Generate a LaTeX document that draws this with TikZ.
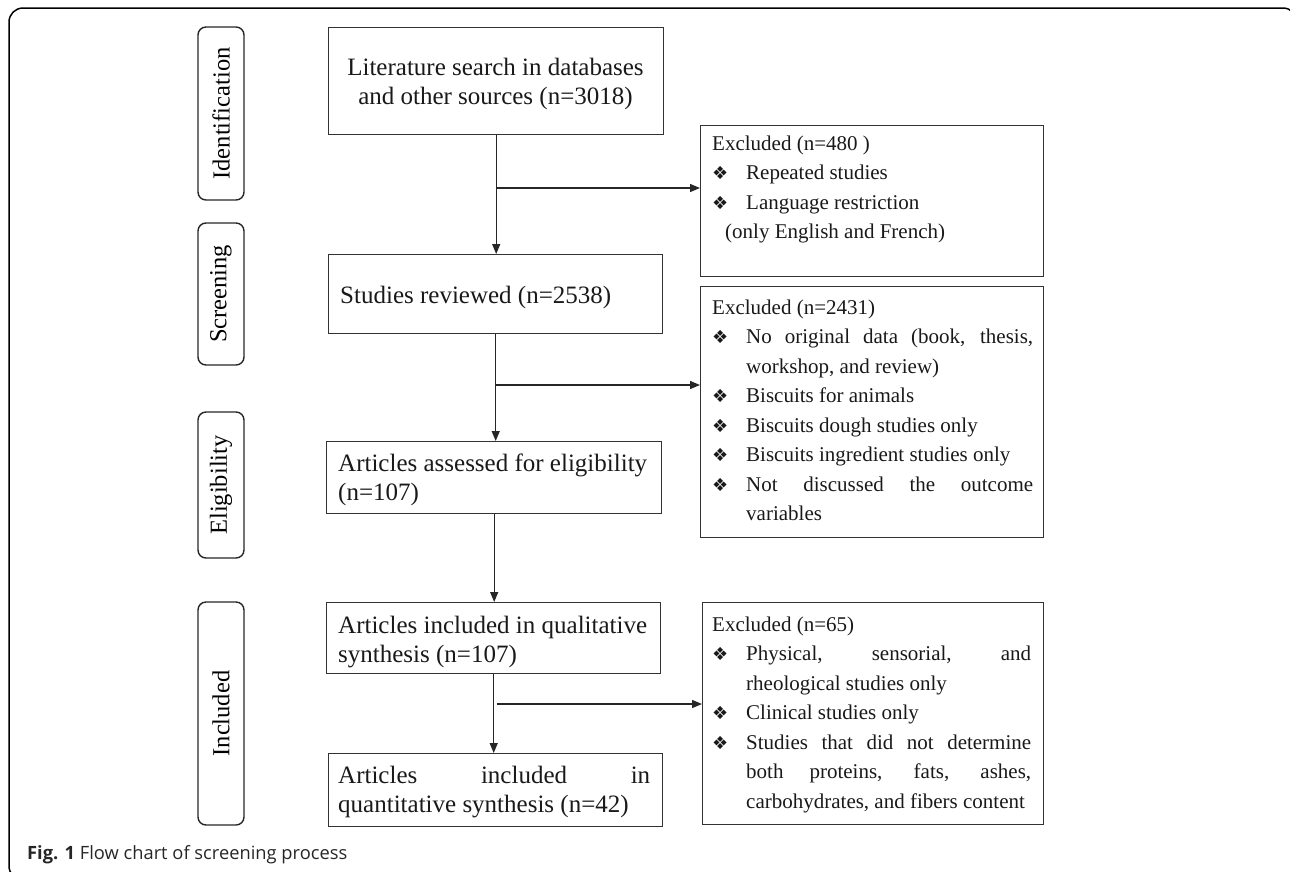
\documentclass[tikz,border=0pt]{standalone}
\usepackage{fontspec}
\setmainfont{Liberation Serif}
\newfontfamily\capfont{Open Sans}
\newfontfamily\symfont{DejaVu Sans}
\usetikzlibrary{arrows.meta}
\newcommand\bul{\makebox[34pt][l]{{\symfont\fontsize{18}{18}\selectfont ❖}}}
\newcommand\ind{\hspace*{34pt}}
\begin{document}
\begin{tikzpicture}[x=1pt,y=-1pt,
  boxst/.style={draw=black!80, line width=1.4pt, inner sep=0pt, anchor=north west},
  phase/.style={draw=black!85, line width=1.4pt, rounded corners=8pt, rotate=90, minimum height=46pt, inner sep=0pt, font=\fontsize{24.5}{29}\selectfont},
  lt/.style={inner sep=0pt, anchor=base west, font=\fontsize{25}{29.5}\selectfont, text=black!90},
  rt/.style={inner sep=0pt, anchor=base west, font=\fontsize{21}{29.5}\selectfont, text=black!90},
  arr/.style={line width=1.3pt, draw=black!85, -{Triangle[length=10pt,width=8pt]}},
  ln/.style={line width=1.3pt, draw=black!85}]

\useasboundingbox (0,0) rectangle (1290,871);
\begin{scope}
\clip (0,0) rectangle (1290,871);
\draw[line width=1.5pt, rounded corners=14pt] (9,8) rectangle (1297,880);
\end{scope}

% main boxes
\node[boxst, minimum width=335pt, minimum height=107pt] (b1) at (328,27) {};
\node[boxst, minimum width=334pt, minimum height=79pt] (b2) at (328,254) {};
\node[boxst, minimum width=335pt, minimum height=72pt] (b3) at (326,441) {};
\node[boxst, minimum width=334pt, minimum height=71pt] (b4) at (326,602) {};
\node[boxst, minimum width=334pt, minimum height=73pt] (b5) at (328,753) {};
\node[boxst, minimum width=343pt, minimum height=151pt] (exA) at (700,125) {};
\node[boxst, minimum width=343pt, minimum height=251pt] (exB) at (700,286) {};
\node[boxst, minimum width=341pt, minimum height=222pt] (exC) at (702,602) {};

% texts of main boxes
\node[lt, anchor=base] (t1) at (495.5,75) {\parbox[t]{330pt}{\centering Literature search in databases\\and other sources (n=3018)}};
\node[lt] (t2) at (340,303) {Studies reviewed (n=2538)};
\node[lt] (t3) at (338,471) {\parbox[t]{320pt}{Articles assessed for eligibility\\(n=107)}};
\node[lt] (t4) at (338,633) {\parbox[t]{320pt}{Articles included in qualitative\\synthesis (n=107)}};
\node[lt] (t5) at (338,783) {\parbox[t]{320pt}{\makebox[312pt][s]{Articles included in}\\quantitative synthesis (n=42)}};

% texts of exclusion boxes
\node[rt] (tA) at (712,150) {\parbox[t]{330pt}{Excluded (n=480 )\\
\bul Repeated studies\\
\bul Language restriction\\
\hspace*{13pt}(only English and French)}};
\node[rt] (tB) at (712,314) {\parbox[t]{330pt}{Excluded (n=2431)\\
\bul\makebox[287pt][s]{No original data (book, thesis,}\\
\ind workshop, and review)\\
\bul Biscuits for animals\\
\bul Biscuits dough studies only\\
\bul Biscuits ingredient studies only\\
\bul\makebox[287pt][s]{Not discussed the outcome}\\
\ind variables}};
\node[rt] (tC) at (712,631) {\parbox[t]{330pt}{Excluded (n=65)\\
\bul\makebox[285pt][s]{Physical, sensorial, and}\\
\ind rheological studies only\\
\bul Clinical studies only\\
\bul\makebox[285pt][s]{Studies that did not determine}\\
\ind\makebox[285pt][s]{both proteins, fats, ashes,}\\
\ind carbohydrates, and fibers content}};

% phase labels
\node[phase, minimum width=173pt] (p1) at (221,113.5) {Identification};
\node[phase, minimum width=142pt] (p2) at (221,294) {Screening};
\node[phase, minimum width=146pt] (p3) at (221,485) {Eligibility};
\node[phase, minimum width=223pt] (p4) at (221,713.5) {Included};

% connectors
\coordinate (y1) at (0,188);
\coordinate (y2) at (0,385);
\coordinate (y3) at (0,704);
\coordinate (j1) at (b1.south |- y1);
\coordinate (j2) at (b2.south |- y2);
\coordinate (j3) at ([xshift=3pt]b4.south |- y3);
\draw[arr] (b1.south) -- (b1.south |- b2.north);
\draw[arr] (j1) -- (j1 -| exA.west);
\draw[arr] (b2.south) -- (b2.south |- b3.north);
\draw[arr] (j2) -- (j2 -| exB.west);
\draw[arr] (b3.south) -- (b3.south |- b4.north);
\draw[arr] (b4.south) -- (b4.south |- b5.north);
\draw[arr] (j3) -- (j3 -| exC.west);

% caption
\node[anchor=base west, inner sep=0pt, font=\capfont\fontsize{18.3}{22}\selectfont, text=black!85] (cap) at (27,859) {\textbf{Fig. 1} Flow chart of screening process};
\end{tikzpicture}
\end{document}
